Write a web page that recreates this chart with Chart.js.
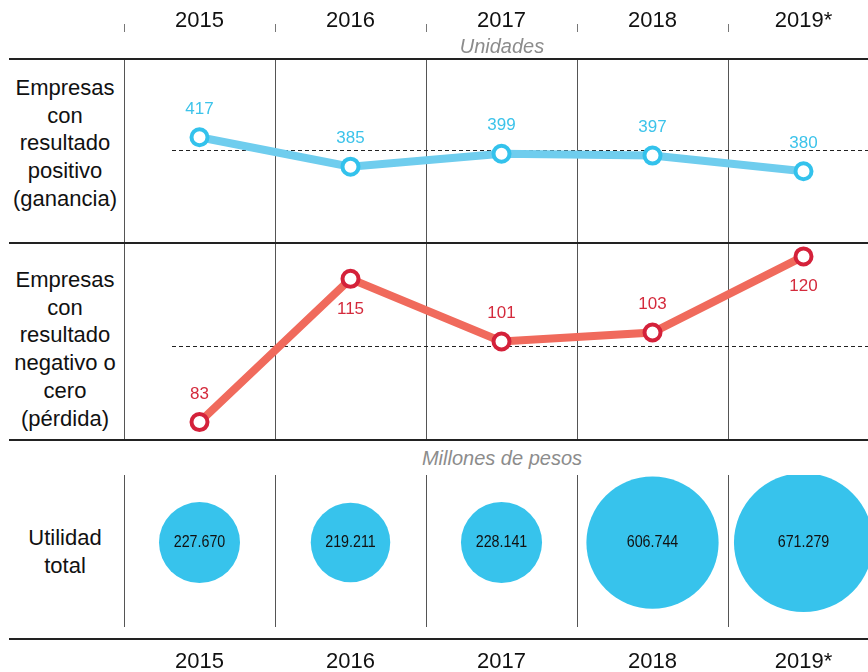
<!DOCTYPE html>
<html>
<head>
<meta charset="utf-8">
<script src="https://cdn.jsdelivr.net/npm/chart.js@4.4.1/dist/chart.umd.min.js"></script>
<style>
    body {
        margin: 0;
        width: 868px;
        height: 672px;
        overflow: hidden;
        background: #fff;
        position: relative;
        font-family: "Liberation Sans", Arial, sans-serif;
    }
    canvas { position: absolute; }
    .rule {
        position: absolute;
        left: 9px;
        width: 859px;
        height: 2px;
        background: #222;
        z-index: 2;
    }
    .rowLabel {
        position: absolute;
        left: 10px;
        width: 110px;
        text-align: center;
        font-size: 22px;
        line-height: 27.7px;
        color: #111;
    }
    .unit {
        position: absolute;
        left: 352px;
        width: 300px;
        text-align: center;
        font-style: italic;
        font-size: 20px;
        line-height: 24px;
        color: #8c8c8c;
    }
</style>
</head>
<body>

<canvas id="chartPos" width="755" height="260" style="left:124px;top:-17px"></canvas>
<canvas id="chartNeg" width="755" height="197" style="left:124px;top:243px"></canvas>
<canvas id="chartUtil" width="755" height="222" style="left:124px;top:475px"></canvas>

<div class="rule" style="top:58px"></div>
<div class="rule" style="top:242px"></div>
<div class="rule" style="top:439px"></div>
<div class="rule" style="top:638px"></div>

<div class="unit" style="top:34px">Unidades</div>
<div class="unit" style="top:446px">Millones de pesos</div>

<div class="rowLabel" style="top:74px">Empresas<br>con<br>resultado<br>positivo<br>(ganancia)</div>
<div class="rowLabel" style="top:266px">Empresas<br>con<br>resultado<br>negativo o<br>cero<br>(pérdida)</div>
<div class="rowLabel" style="top:524px">Utilidad<br>total</div>

<script>
const years = ["2015", "2016", "2017", "2018", "2019*"];
const positivos = [417, 385, 399, 397, 380];
const negativos = [83, 115, 101, 103, 120];
const utilidad = [227670, 219211, 228141, 606744, 671279];

// where the value label sits relative to each point
const posLabelSide = ["above", "above", "above", "above", "above"];
const negLabelSide = ["above", "below", "above", "above", "below"];

// dashed reference levels
const posRef = 403;
const negRef = 100;

Chart.defaults.font.family = "'Liberation Sans', Arial, sans-serif";
Chart.defaults.animation = false;

function fmtMiles(v) {
    return String(Math.round(v)).replace(/\B(?=(\d{3})+(?!\d))/g, ".");
}

// dashed line + value labels for the line panels
const linePanel = {
    id: "linePanel",
    beforeDatasetsDraw(chart, args, opts) {
        const ctx = chart.ctx;
        const y = chart.scales.y.getPixelForValue(opts.ref);
        ctx.save();
        ctx.strokeStyle = "#222";
        ctx.lineWidth = 1;
        ctx.setLineDash([4, 3]);
        ctx.beginPath();
        ctx.moveTo(chart.chartArea.left + 48, Math.round(y) + 0.5);
        ctx.lineTo(chart.chartArea.right, Math.round(y) + 0.5);
        ctx.stroke();
        ctx.restore();
    },
    afterDatasetsDraw(chart, args, opts) {
        const ctx = chart.ctx;
        const meta = chart.getDatasetMeta(0);
        const values = chart.data.datasets[0].data;
        ctx.save();
        ctx.font = "17px 'Liberation Sans', Arial, sans-serif";
        ctx.fillStyle = opts.color;
        ctx.textAlign = "center";
        ctx.textBaseline = "middle";
        meta.data.forEach(function (pt, i) {
            const dy = opts.sides[i] == "below" ? 30 : -28;
            ctx.fillText(String(values[i]), pt.x, pt.y + dy);
        });
        if (opts.topTicks) {
            const xs = chart.scales.x;
            const half = (xs.getPixelForValue(1) - xs.getPixelForValue(0)) / 2;
            ctx.strokeStyle = "#777";
            ctx.lineWidth = 1;
            for (let i = 0; i < years.length; i++) {
                const x = Math.round(xs.getPixelForValue(i) - half) + 0.5;
                ctx.beginPath();
                ctx.moveTo(x, 41);
                ctx.lineTo(x, 49);
                ctx.stroke();
            }
        }
        ctx.restore();
    },
};

// numbers inside the bubbles (squeezed to look condensed)
const bubbleText = {
    id: "bubbleText",
    afterDatasetsDraw(chart) {
        const ctx = chart.ctx;
        const meta = chart.getDatasetMeta(0);
        ctx.font = "17px 'Liberation Sans', Arial, sans-serif";
        ctx.fillStyle = "#111";
        ctx.textAlign = "center";
        ctx.textBaseline = "middle";
        meta.data.forEach(function (pt, i) {
            ctx.save();
            ctx.translate(pt.x, pt.y);
            ctx.scale(0.84, 1);
            ctx.fillText(fmtMiles(utilidad[i]), 0, 0);
            ctx.restore();
        });
    },
};

const xGrid = {
    offset: true,
    color: "#555",
    lineWidth: 1,
    drawTicks: false,
};

const configPos = {
    type: "line",
    data: {
        labels: years,
        datasets: [{
            data: positivos,
            borderColor: "#6fcdee",
            borderWidth: 8,
            pointRadius: 8,
            pointBorderWidth: 4,
            pointBackgroundColor: "#fff",
            pointBorderColor: "#33c2ec",
            tension: 0,
            clip: false,
        }],
    },
    options: {
        responsive: false,
        layout: { autoPadding: false },
        scales: {
            x: {
                position: "top",
                offset: true,
                grid: xGrid,
                border: { display: false },
                ticks: {
                    color: "#111",
                    padding: 24.8,
                    font: { size: 22 },
                },
            },
            y: { display: false, min: 302, max: 502 },
        },
        plugins: {
            legend: { display: false },
            tooltip: { enabled: false },
            linePanel: { ref: posRef, color: "#3cc3ea", sides: posLabelSide, topTicks: true },
        },
    },
    plugins: [linePanel],
};

const configNeg = {
    type: "line",
    data: {
        labels: years,
        datasets: [{
            data: negativos,
            borderColor: "#f06a5c",
            borderWidth: 8,
            pointRadius: 8,
            pointBorderWidth: 4,
            pointBackgroundColor: "#fff",
            pointBorderColor: "#d4213a",
            tension: 0,
            clip: false,
        }],
    },
    options: {
        responsive: false,
        layout: { autoPadding: false },
        scales: {
            x: {
                offset: true,
                grid: xGrid,
                border: { display: false },
                ticks: { display: false },
            },
            y: { display: false, min: 79, max: 123 },
        },
        plugins: {
            legend: { display: false },
            tooltip: { enabled: false },
            linePanel: { ref: negRef, color: "#d42a3c", sides: negLabelSide, topTicks: false },
        },
    },
    plugins: [linePanel],
};

const configUtil = {
    type: "bubble",
    data: {
        labels: years,
        datasets: [{
            data: utilidad.map(function (v, i) {
                return { x: years[i], y: 0, r: 2.684 * Math.sqrt(v / 1000) };
            }),
            backgroundColor: "#37c3ec",
            borderWidth: 0,
            clip: false,
        }],
    },
    options: {
        responsive: false,
        layout: { autoPadding: false },
        scales: {
            x: {
                type: "category",
                offset: true,
                grid: xGrid,
                border: { display: false },
                ticks: {
                    color: "#111",
                    padding: 21.8,
                    font: { size: 22 },
                },
            },
            y: { display: false, min: -1.25, max: 1 },
        },
        plugins: {
            legend: { display: false },
            tooltip: { enabled: false },
        },
    },
    plugins: [bubbleText],
};

var posChart = new Chart(document.getElementById("chartPos"), configPos);
var negChart = new Chart(document.getElementById("chartNeg"), configNeg);
var utilChart = new Chart(document.getElementById("chartUtil"), configUtil);
</script>
</body>
</html>
